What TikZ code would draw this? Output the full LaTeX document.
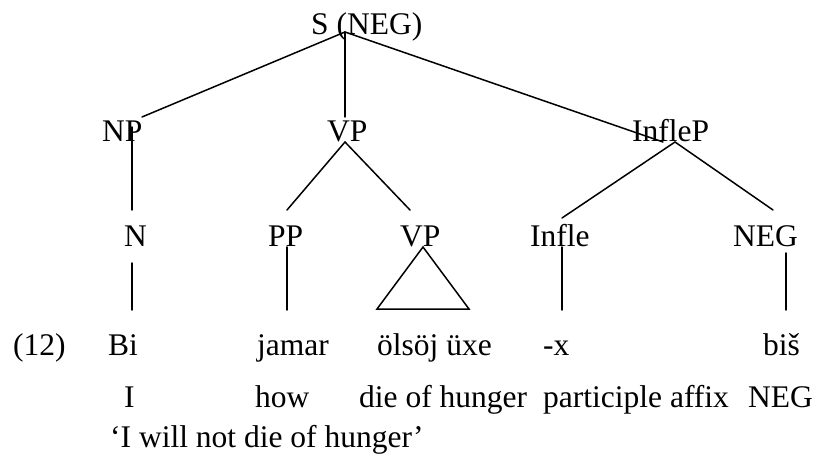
\documentclass[tikz,border=0pt]{standalone}
\usepackage{fontspec}
\setmainfont{Liberation Serif}
\begin{document}
\begin{tikzpicture}[x=1pt,y=-1pt,
  lbl/.style={inner sep=0pt,anchor=base west,font=\fontsize{31.5}{38}\selectfont},
  branch/.style={line width=1.5pt,line cap=round}]
\useasboundingbox (0,0) rectangle (817,465);

% tree labels
\node[lbl] (s) at (311,35) {S (NEG)};
\node[lbl] (np) at (102,142) {NP};
\node[lbl] (vp) at (327,142) {VP};
\node[lbl] (inflep) at (632,142) {InfleP};
\node[lbl] (n) at (124,247) {N};
\node[lbl] (pp) at (268,247) {PP};
\node[lbl] (vpb) at (400,247) {VP};
\node[lbl] (infle) at (530,247) {Infle};
\node[lbl] (neg) at (733,247) {NEG};

% example line
\node[lbl] (ex) at (13,355) {(12)};
\node[lbl] (bi) at (108,355) {Bi};
\node[lbl] (jamar) at (257,355) {jamar};
\node[lbl] (olsoj) at (377,355) {ölsöj üxe};
\node[lbl] (affx) at (543,355) {-x};
\node[lbl] (bis) at (763,355) {biš};

% gloss line
\node[lbl] (gi) at (124,407) {I};
\node[lbl] (ghow) at (255,407) {how};
\node[lbl] (gdie) at (359,407) {die of hunger};
\node[lbl] (gpart) at (543,407) {participle affix};
\node[lbl] (gneg) at (748,407) {NEG};

% translation
\node[lbl] (trans) at (110,447) {‘I will not die of hunger’};

% branch end points
\coordinate (sJ) at (345,32);
\coordinate (npT) at (142,117);
\coordinate (vpT) at (345,117);
\coordinate (inflepT) at (663,142);
\coordinate (npB) at (132,127);
\coordinate (nT) at (132,210);
\coordinate (vpB) at (345,142);
\coordinate (ppT) at (287,210);
\coordinate (vpbT) at (410,210);
\coordinate (inflepB) at (675,142);
\coordinate (infleT) at (562,218);
\coordinate (negT) at (773,210);
\coordinate (nB) at (132,263);
\coordinate (biT) at (132,310);
\coordinate (ppB) at (287,247);
\coordinate (jamarT) at (287,310);
\coordinate (triTop) at (423,247);
\coordinate (triL) at (377,309);
\coordinate (triR) at (469,309);
\coordinate (infleB) at (562,247);
\coordinate (affxT) at (562,310);
\coordinate (negB) at (786,253);
\coordinate (bisT) at (786,310);

% branches
\draw[branch] (sJ) -- (npT);
\draw[branch] (sJ) -- (vpT);
\draw[branch] (sJ) -- (inflepT);
\draw[branch] (npB) -- (nT);
\draw[branch] (vpB) -- (ppT);
\draw[branch] (vpB) -- (vpbT);
\draw[branch] (inflepB) -- (infleT);
\draw[branch] (inflepB) -- (negT);
\draw[branch] (nB) -- (biT);
\draw[branch] (ppB) -- (jamarT);
\draw[branch,line join=miter] (triTop) -- (triL) -- (triR) -- cycle;
\draw[branch] (infleB) -- (affxT);
\draw[branch] (negB) -- (bisT);
\end{tikzpicture}
\end{document}
